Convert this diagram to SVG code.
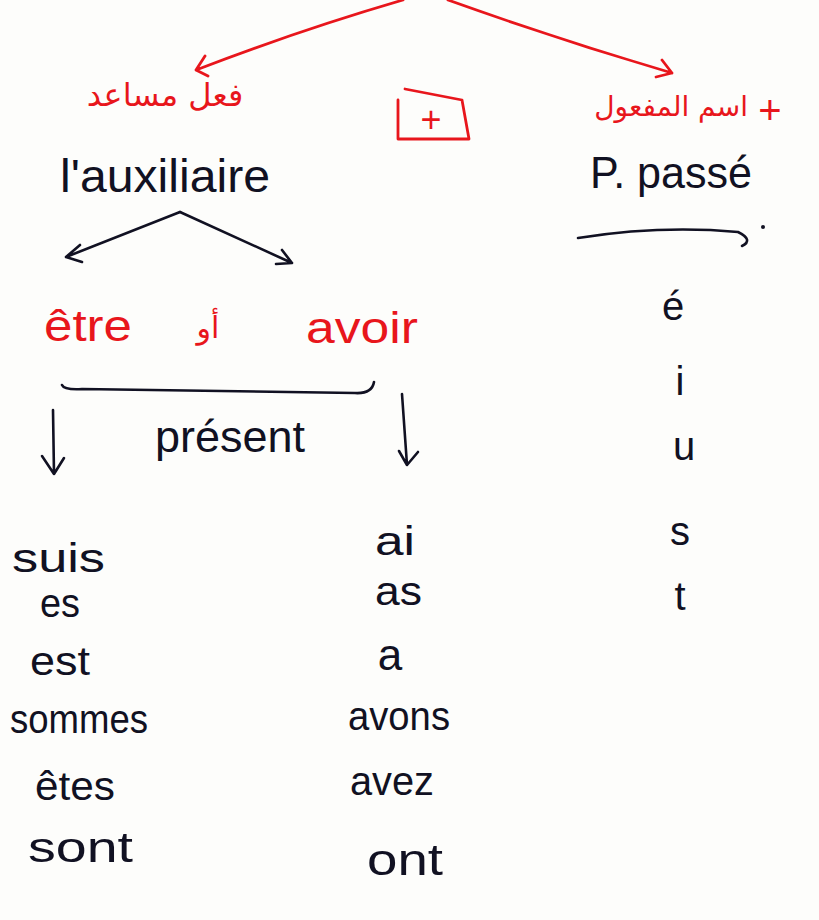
<svg xmlns="http://www.w3.org/2000/svg" width="819" height="920" viewBox="0 0 819 920">
<style>
.bk{fill:#111122;font-family:"Liberation Sans","DejaVu Sans",sans-serif}
.rd{fill:#e8161c;font-family:"Liberation Sans","DejaVu Sans",sans-serif}
.ar{font-family:"DejaVu Sans","Noto Sans",sans-serif}
.lr{fill:none;stroke:#e8161c;stroke-width:2.8;stroke-linecap:round;stroke-linejoin:round}
.lb{fill:none;stroke:#111122;stroke-width:2.6;stroke-linecap:round;stroke-linejoin:round}
</style>
<rect width="819" height="920" fill="#fdfdfb"/>
<g id="connectors">
<path class="lr" d="M403,0 Q300,30 196,70 M205,56 L196,70 L208,76"/>
<path class="lr" d="M448,0 Q560,40 672,73 M662,60 L672,73 L656,77"/>
<path class="lb" d="M180,212 L66,257 M80,245 L66,257 L82,262"/>
<path class="lb" d="M180,212 L292,263 M282,250 L292,263 L276,264"/>
<path class="lb" d="M578,238 Q660,225 738,232 Q754,240 742,246"/>
<circle cx="763" cy="227" r="2" fill="#111122"/>
<path class="lb" d="M62,385 Q64,390 82,389 L355,393 Q372,394 374,382"/>
<path class="lb" d="M53,410 L54,474 M42,456 L54,474 L64,458"/>
<path class="lb" d="M402,394 L407,465 M399,451 L407,465 L418,452"/>
</g>
<g id="aux-ar"><text class="rd ar" x="165" y="106" font-size="32" text-anchor="middle">فعل مساعد</text></g>
<g id="auxiliaire"><text class="bk" x="60" y="192" font-size="46" textLength="210" lengthAdjust="spacingAndGlyphs">l'auxiliaire</text></g>
<g id="plus-box">
<path class="lr" d="M405,89 L462,100 L469,139 L398,139 L398,100"/>
<text class="rd" x="431" y="132" font-size="36" text-anchor="middle">+</text>
</g>
<g id="pp-ar">
<text class="rd ar" x="748" y="116" font-size="28" text-anchor="end">اسم المفعول</text>
<text class="rd" x="770" y="124" font-size="40" text-anchor="middle">+</text>
</g>
<g id="ppasse"><text class="bk" x="590" y="188" font-size="44" textLength="162" lengthAdjust="spacingAndGlyphs">P. passé</text></g>
<g id="etre"><text class="rd" x="44" y="341" font-size="44" textLength="88" lengthAdjust="spacingAndGlyphs">être</text></g>
<g id="ou"><text class="rd ar" x="208" y="338" font-size="30" text-anchor="middle">أو</text></g>
<g id="avoir"><text class="rd" x="306" y="343" font-size="44" textLength="112" lengthAdjust="spacingAndGlyphs">avoir</text></g>
<g id="present"><text class="bk" x="155" y="452" font-size="44" textLength="150" lengthAdjust="spacingAndGlyphs">présent</text></g>
<g id="etre-conj">
<text class="bk" x="12" y="572" font-size="40" textLength="93" lengthAdjust="spacingAndGlyphs">suis</text>
<text class="bk" x="40" y="617" font-size="40" textLength="40" lengthAdjust="spacingAndGlyphs">es</text>
<text class="bk" x="30" y="675" font-size="40" textLength="60" lengthAdjust="spacingAndGlyphs">est</text>
<text class="bk" x="10" y="733" font-size="40" textLength="138" lengthAdjust="spacingAndGlyphs">sommes</text>
<text class="bk" x="35" y="800" font-size="40" textLength="80" lengthAdjust="spacingAndGlyphs">êtes</text>
<text class="bk" x="28" y="862" font-size="42" textLength="105" lengthAdjust="spacingAndGlyphs">sont</text>
</g>
<g id="avoir-conj">
<text class="bk" x="375" y="555" font-size="40" textLength="40" lengthAdjust="spacingAndGlyphs">ai</text>
<text class="bk" x="375" y="605" font-size="40" textLength="47" lengthAdjust="spacingAndGlyphs">as</text>
<text class="bk" x="390" y="670" font-size="44" text-anchor="middle">a</text>
<text class="bk" x="348" y="730" font-size="40" textLength="102" lengthAdjust="spacingAndGlyphs">avons</text>
<text class="bk" x="350" y="795" font-size="40" textLength="84" lengthAdjust="spacingAndGlyphs">avez</text>
<text class="bk" x="367" y="875" font-size="44" textLength="76" lengthAdjust="spacingAndGlyphs">ont</text>
</g>
<g id="endings">
<text class="bk" x="673" y="320" font-size="40" text-anchor="middle">é</text>
<text class="bk" x="680" y="395" font-size="40" text-anchor="middle">i</text>
<text class="bk" x="684" y="460" font-size="40" text-anchor="middle">u</text>
<text class="bk" x="680" y="545" font-size="40" text-anchor="middle">s</text>
<text class="bk" x="680" y="610" font-size="40" text-anchor="middle">t</text>
</g>
</svg>
